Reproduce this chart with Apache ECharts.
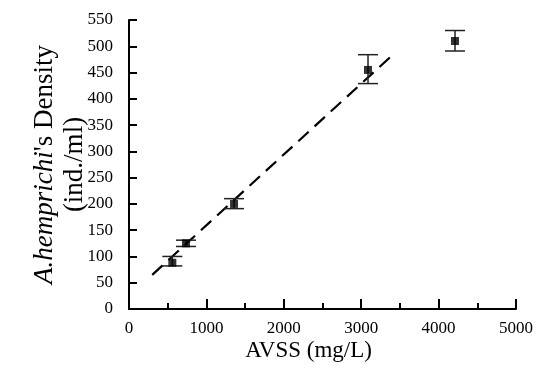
<!DOCTYPE html>
<html>
<head>
<meta charset="utf-8">
<script src="https://cdn.jsdelivr.net/npm/echarts@6/dist/echarts.min.js"></script>
<style>html,body{margin:0;padding:0;background:#fff;}#c{width:538px;height:369px;}</style>
</head>
<body>
<div id="c"></div>
<script>
const avss = [560, 736, 1357, 3088, 4212];
const density = [88, 125, 200, 455, 510];
const errLow = [82, 119, 191, 429, 491];
const errHigh = [100, 131, 210, 484, 530];
const fitX = [300, 3380];
const fitY = [65, 480];
const xTicks = [0, 1000, 2000, 3000, 4000, 5000];
const yTicks = [0, 50, 100, 150, 200, 250, 300, 350, 400, 450, 500, 550];

const font = 'Liberation Serif';
const chart = echarts.init(document.getElementById('c'));
chart.setOption({
  animation: false,
  backgroundColor: '#fff',
  grid: {left: 129, right: 22, top: 20, bottom: 60, containLabel: false, outerBoundsMode: 'none'},
  xAxis: {
    type: 'value', min: xTicks[0], max: xTicks[xTicks.length-1], interval: 1000,
    name: 'AVSS (mg/L)', nameLocation: 'middle', nameGap: 30, nameMoveOverlap: false,
    nameTextStyle: {fontFamily: font, fontSize: 23, color: '#000', padding: [0, 28, 0, 0]},
    axisLine: {show: true, onZero: false, lineStyle: {color: '#000', width: 2}},
    axisTick: {show: true, inside: true, length: 10, lineStyle: {color: '#000', width: 2}},
    minorTick: {show: true, splitNumber: 2, length: 6, lineStyle: {color: '#000', width: 2}},
    axisLabel: {fontFamily: font, fontSize: 17, color: '#000', margin: 11, formatter: v => String(v)},
    splitLine: {show: false}, minorSplitLine: {show: false}
  },
  yAxis: {
    type: 'value', min: yTicks[0], max: yTicks[yTicks.length-1], interval: 50,
    name: '{i|A.hemprichi}{r|\'s Density}\n{r|(ind./ml)}', nameLocation: 'middle', nameGap: 39,
    nameRotate: 90, nameMoveOverlap: false,
    nameTextStyle: {fontFamily: font, fontSize: 27, color: '#000', align: 'center', lineHeight: 30,
      rich: {i: {fontFamily: font, fontSize: 27, fontStyle: 'italic', color: '#000', lineHeight: 30},
             r: {fontFamily: font, fontSize: 27, color: '#000', lineHeight: 30}}},
    axisLine: {show: true, onZero: false, lineStyle: {color: '#000', width: 2}},
    axisTick: {show: true, inside: true, length: 8, lineStyle: {color: '#000', width: 2}},
    axisLabel: {fontFamily: font, fontSize: 17, color: '#000', margin: 16, formatter: v => String(v)},
    splitLine: {show: false}
  },
  series: [
    {
      type: 'line', data: fitX.map((x, i) => [x, fitY[i]]), symbol: 'none',
      lineStyle: {color: '#000', width: 2.2, type: [14, 8]}, z: 1
    },
    {
      type: 'custom', z: 2,
      data: avss.map((x, i) => [x, errLow[i], errHigh[i]]),
      renderItem: function (params, api) {
        const x = api.value(0);
        const lo = api.coord([x, api.value(1)]);
        const hi = api.coord([x, api.value(2)]);
        const hw = 10;
        const st = {stroke: '#222', lineWidth: 1.5};
        return {type: 'group', children: [
          {type: 'line', shape: {x1: lo[0], y1: lo[1], x2: hi[0], y2: hi[1]}, style: st},
          {type: 'line', shape: {x1: lo[0]-hw, y1: lo[1], x2: lo[0]+hw, y2: lo[1]}, style: st},
          {type: 'line', shape: {x1: hi[0]-hw, y1: hi[1], x2: hi[0]+hw, y2: hi[1]}, style: st}
        ]};
      }
    },
    {
      type: 'scatter', data: avss.map((x, i) => [x, density[i]]),
      symbol: 'rect', symbolSize: 8, itemStyle: {color: '#000'}, z: 3
    }
  ]
});
</script>
</body>
</html>
